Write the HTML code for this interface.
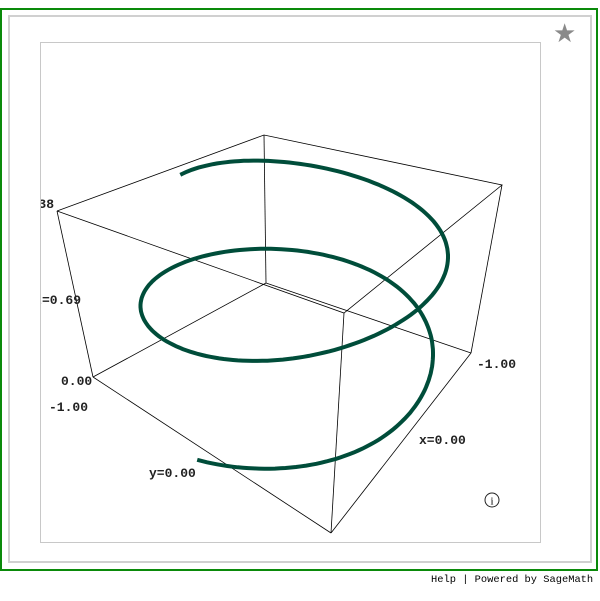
<!DOCTYPE html>
<html><head><meta charset="utf-8"><style>
body{margin:0;background:#fff;width:600px;height:601px;position:relative;overflow:hidden;font-family:"Liberation Mono",monospace}
#outer{position:absolute;left:0;top:8px;width:594px;height:559px;border:2px solid #0a8a0a}
#inner{position:absolute;left:8px;top:15px;width:580px;height:544px;border:2px solid #d0d0d0}
#plot{position:absolute;left:40px;top:42px;width:499px;height:499px;border:1px solid #c8c8c8;overflow:hidden}
#star{position:absolute;left:553px;top:19px;font-size:26px;color:#8a8a8a;font-family:"DejaVu Sans",sans-serif}
#foot{position:absolute;left:431px;top:574px;font-size:10.4px;color:#000}
</style></head><body>
<div id="outer"></div>
<div id="inner"></div>
<div id="star">★</div>
<div id="plot">
<svg id="svg" width="499" height="499" viewBox="40 42 499 499" style="position:absolute;left:0;top:0">
<g stroke="#000" stroke-width="0.8" fill="none">
<polyline points="56,210 263,134 501,184 343,312 56,210"/>
<line x1="263" y1="134" x2="265" y2="282"/><line x1="92" y1="376" x2="265" y2="282"/><line x1="265" y1="282" x2="470" y2="352"/>
<line x1="56" y1="210" x2="92" y2="376"/><line x1="501" y1="184" x2="470" y2="352"/><line x1="343" y1="312" x2="330" y2="532"/>
<line x1="92" y1="376" x2="330" y2="532"/><line x1="330" y1="532" x2="470" y2="352"/>
</g>
<path id="helix" fill="none" stroke="#004d3a" stroke-width="4" stroke-linecap="butt"/>
<g font-family="Liberation Mono,monospace" font-size="13" fill="#222" font-weight="bold">
<text x="53" y="207" text-anchor="end">z=1.38</text>
<text x="80" y="303" text-anchor="end">z=0.69</text>
<text x="60" y="384">0.00</text>
<text x="48" y="410">-1.00</text>
<text x="148" y="476">y=0.00</text>
<text x="418" y="443">x=0.00</text>
<text x="476" y="367">-1.00</text>
</g>
<g><circle cx="491" cy="499" r="7" fill="none" stroke="#222" stroke-width="1"/><text x="491" y="503.5" font-size="11" text-anchor="middle" font-family="Liberation Serif,serif">i</text></g>
</svg></div>
<div id="foot"><span>Help</span> | <span>Powered by SageMath</span></div>
<script>
const thetaRange=[-140,488];
const centerX=[285,293];
const centerY=[257,355];
const radiusX=[150,150];
const skewX=[12,-11];
const radiusY=[74,84];
let d='';
for(let deg=thetaRange[0];deg<=thetaRange[1];deg+=2){
 const f=deg/360, r=deg*Math.PI/180, c=Math.cos(r), sn=Math.sin(r);
 const cx=centerX[0]+(centerX[1]-centerX[0])*f, cy=centerY[0]+(centerY[1]-centerY[0])*f;
 const a=radiusX[0]+(radiusX[1]-radiusX[0])*f, s=skewX[0]+(skewX[1]-skewX[0])*f;
 const b=radiusY[0]+(radiusY[1]-radiusY[0])*f;
 d+=(d?'L':'M')+(cx+a*c+s*c*c).toFixed(1)+','+(cy+b*sn).toFixed(1);
}
document.getElementById('helix').setAttribute('d',d);
</script>
</body></html>
